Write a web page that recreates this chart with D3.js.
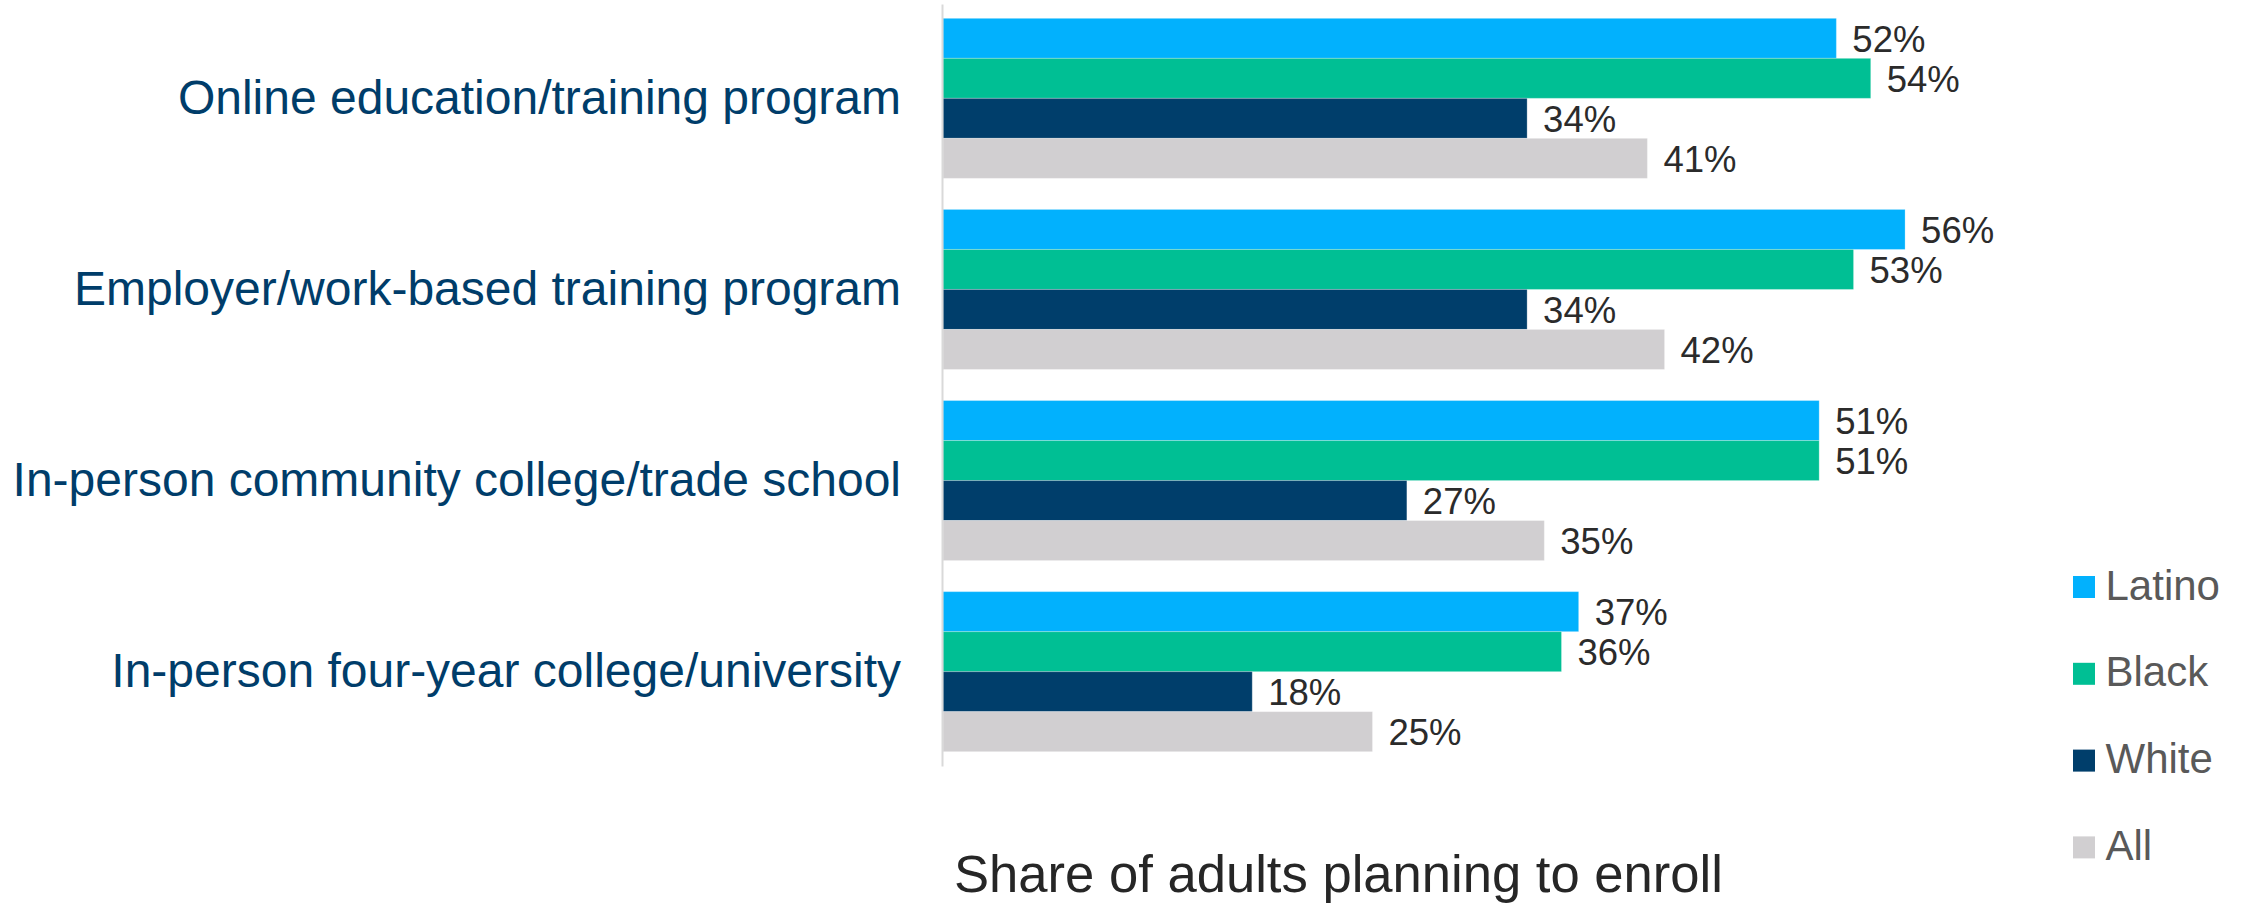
<!DOCTYPE html>
<html>
<head>
<meta charset="utf-8">
<script src="https://cdn.jsdelivr.net/npm/d3@7"></script>
<style>
  html, body { margin: 0; padding: 0; background: #ffffff; }
  svg { display: block; font-family: "Liberation Sans", Arial, sans-serif; }
</style>
</head>
<body>
<svg id="chart" width="2248" height="903"></svg>
<script>
// Programs people plan to enroll in, by group (percent)
const categories = [
  "Online education/training program",
  "Employer/work-based training program",
  "In-person community college/trade school",
  "In-person four-year college/university"
];
const seriesNames = ["Latino", "Black", "White", "All"];
const latino = [52, 56, 51, 37];
const black  = [54, 53, 51, 36];
const white  = [34, 34, 27, 18];
const all    = [41, 42, 35, 25];
const seriesColors = ["#02b1fd", "#00bf94", "#003e6b", "#d1cfd1"];
const axisTitle = "Share of adults planning to enroll";

const values = [latino, black, white, all];
const rows = [];
categories.forEach((c, i) => {
  seriesNames.forEach((s, j) => rows.push({ category: c, series: s, value: values[j][i] }));
});

const svg = d3.select("#chart");

const x = d3.scaleLinear().domain([0, 60]).range([943, 943 + 17.18 * 60]);
const y0 = d3.scaleBand().domain(categories).range([4, 766])
  .paddingInner(0.1627).paddingOuter(0.075);
const y1 = d3.scaleBand().domain(seriesNames).range([0, y0.bandwidth()]).padding(0);
const color = d3.scaleOrdinal().domain(seriesNames).range(seriesColors);

// Bars
svg.append("g").selectAll("rect")
  .data(rows)
  .join("rect")
  .attr("x", x(0))
  .attr("y", d => y0(d.category) + y1(d.series))
  .attr("width", d => x(d.value) - x(0))
  .attr("height", y1.bandwidth())
  .attr("fill", d => color(d.series))
  .attr("stroke", "#ffffff")
  .attr("stroke-opacity", 0.25)
  .attr("stroke-width", 1);

// Value labels
svg.append("g").selectAll("text")
  .data(rows)
  .join("text")
  .attr("x", d => x(d.value) + 16)
  .attr("y", d => y0(d.category) + y1(d.series) + y1.bandwidth() / 2 + 13.5)
  .attr("font-size", 36.5)
  .attr("fill", "#2b2b2b")
  .text(d => d.value + "%");

// Vertical category axis
const yAxis = d3.axisLeft(y0).tickSize(0).tickPadding(41);
const gy = svg.append("g").attr("transform", `translate(${x(0) - 1},0)`).call(yAxis);
gy.select(".domain").attr("stroke", "#d9d9d9").attr("stroke-width", 2);
gy.selectAll(".tick text")
  .attr("font-size", 48)
  .attr("font-family", "'Liberation Sans', Arial, sans-serif")
  .attr("fill", "#003d6a");

// Axis title
svg.append("text")
  .attr("x", 954)
  .attr("y", 892)
  .attr("font-size", 52.6)
  .attr("fill", "#262626")
  .text(axisTitle);

// Legend
const legend = svg.append("g").selectAll("g")
  .data(seriesNames)
  .join("g")
  .attr("transform", (d, i) => `translate(2073, ${587 + i * 86.8})`);
legend.append("rect")
  .attr("x", 0).attr("y", -11)
  .attr("width", 22).attr("height", 22)
  .attr("fill", d => color(d));
legend.append("text")
  .attr("x", 32.5).attr("y", 12.5)
  .attr("font-size", 42)
  .attr("fill", "#595959")
  .text(d => d);
</script>
</body>
</html>
